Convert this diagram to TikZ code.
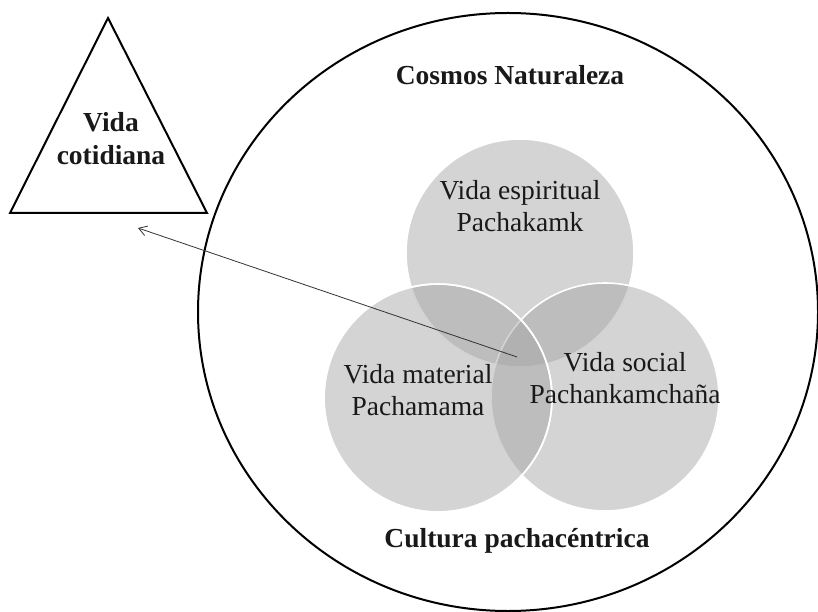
\documentclass[tikz,border=0pt]{standalone}
\usepackage{fontspec}
\setmainfont{Liberation Serif}
\usetikzlibrary{arrows.meta}
\tikzset{
	vennfill/.style={fill=black!36,fill opacity=0.47,draw=white,draw opacity=1,line width=1.6pt},
	venntext/.style={font=\fontsize{27.5}{32}\selectfont,text=black!90,align=center,anchor=base},
	boldtext/.style={venntext,font=\fontsize{27.5}{33}\selectfont\bfseries}
}
\begin{document}
\begin{tikzpicture}[>={Straight Barb[length=8pt,width=10pt]},x=1pt,y=1pt]
	\def\r{114pt} % radio de los circulos
	\useasboundingbox (0,0) rectangle (818,611);
	\coordinate (E) at (520,358); % centro espiritual
	\coordinate (S) at (605,214); % centro social
	\coordinate (M) at (438,213); % centro material
	\draw[line width=2pt] (508,299) ellipse [x radius=310pt, y radius=299pt]; % cosmos
	\draw[line width=2pt] (108,593) -- (207,398) -- (10,398) -- cycle; % triangulo
	\fill[vennfill] (E) circle [radius=\r];
	\fill[vennfill] (S) circle [radius=\r];
	\fill[vennfill] (M) circle [radius=\r];
	\draw[vennfill,fill=none] (M) circle [radius=\r];
	\coordinate (tail) at (517,254);	\coordinate (tip) at (138,383);
	\draw[->,black!80,line width=0.8pt] (tail) -- (tip);
	\node[boldtext] (cot) at (111,446) {Vida\\cotidiana}; % base = ultima linea
	\node[boldtext] (cosmos) at (510,526) {Cosmos Naturaleza};
	\node[boldtext] (cultura) at (517,64) {Cultura pachacéntrica};
	\node[venntext] (esp) at (520,379) {Vida espiritual\\Pachakamk};
	\node[venntext] (mat) at (418,196) {Vida material\\Pachamama};
	\node[venntext] (soc) at (625,208) {Vida social\\Pachankamchaña};
\end{tikzpicture}
\end{document}
